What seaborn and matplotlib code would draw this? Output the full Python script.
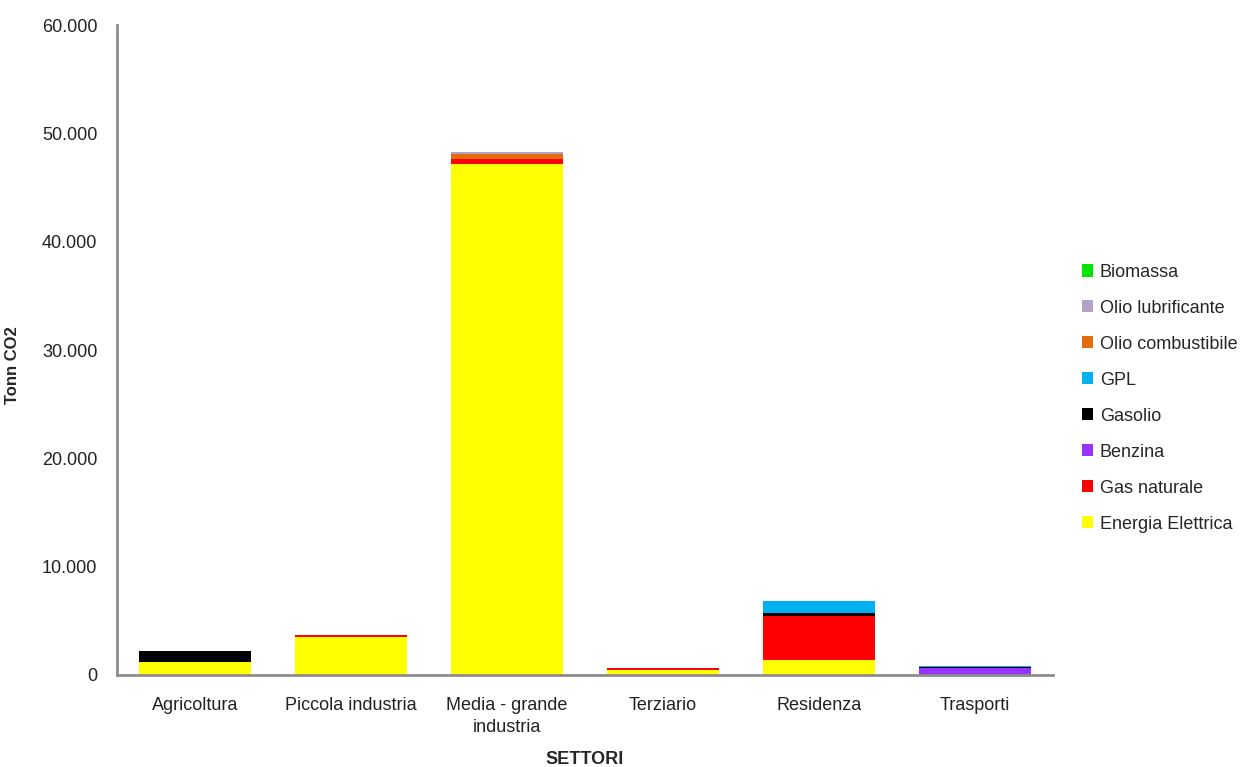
import matplotlib
import seaborn as sns
import numpy as np
import pandas as pd
import matplotlib.pyplot as plt
from matplotlib.patches import Patch
from matplotlib.ticker import FuncFormatter, FixedLocator

# settori e fonti (Tonn CO2)
settori = ["Agricoltura", "Piccola industria", "Media - grande\nindustria",
           "Terziario", "Residenza", "Trasporti"]
fonti = ["Biomassa", "Olio lubrificante", "Olio combustibile", "GPL",
         "Gasolio", "Benzina", "Gas naturale", "Energia Elettrica"]

energia_elettrica = [1200, 3500, 47150, 500, 1350, 0]
gas_naturale = [0, 230, 470, 130, 4120, 0]
benzina = [0, 0, 0, 0, 0, 650]
gasolio = [1000, 0, 0, 0, 220, 90]
gpl = [0, 0, 0, 0, 1100, 90]
olio_combustibile = [0, 0, 530, 0, 0, 0]
olio_lubrificante = [0, 0, 150, 0, 0, 0]
biomassa = [0, 0, 0, 0, 0, 0]

colori = ["#00E600", "#B3A2C7", "#E46C0A", "#00B0F0",
          "#000000", "#9933FF", "#FF0000", "#FFFF00"]

valori = {
    "Biomassa": biomassa,
    "Olio lubrificante": olio_lubrificante,
    "Olio combustibile": olio_combustibile,
    "GPL": gpl,
    "Gasolio": gasolio,
    "Benzina": benzina,
    "Gas naturale": gas_naturale,
    "Energia Elettrica": energia_elettrica,
}

rows = []
for f in fonti:
    for s, v in zip(settori, valori[f]):
        rows.append({"settore": s, "fonte": f, "tonn": v})
df = pd.DataFrame(rows)
df["settore"] = pd.Categorical(df["settore"], categories=settori, ordered=True)

sns.set_style("white")
plt.rcParams['font.family'] = ['Liberation Sans', 'DejaVu Sans']

fig = plt.figure(figsize=(12.43, 7.67), dpi=100)
ax = fig.add_axes([0.094, 0.12, 0.753, 0.847])

sns.histplot(data=df, x="settore", weights="tonn", hue="fonte",
             hue_order=fonti, palette=colori, multiple="stack",
             discrete=True, shrink=0.72, linewidth=0, alpha=1,
             legend=False, ax=ax)

ax.set_xlim(-0.5, 5.5)
ax.set_ylim(0, 60000)
ax.yaxis.set_major_locator(FixedLocator(np.arange(0, 60001, 10000)))
ax.yaxis.set_major_formatter(FuncFormatter(lambda v, p: f"{int(v):,}".replace(",", ".")))

ax.set_xticks(range(len(settori)))
ax.set_xticklabels(settori, fontsize=13, color="#222222", linespacing=1.35)
ax.set_xticks(np.arange(-0.5, 6, 1), minor=True)
ax.tick_params(axis="x", which="major", length=0, pad=16)
ax.tick_params(axis="x", which="minor", length=6, width=1.5, color="#8c8c8c", direction="out")
ax.tick_params(axis="y", which="major", length=8, width=1.5, color="#8c8c8c",
               direction="out", labelsize=13, labelcolor="#222222", pad=6)

for side in ["top", "right"]:
    ax.spines[side].set_visible(False)
for side in ["left", "bottom"]:
    ax.spines[side].set_color("#8c8c8c")
    ax.spines[side].set_linewidth(2)

ax.set_ylabel("Tonn CO2", fontsize=12, fontweight="bold")
ax.yaxis.set_label_coords(-0.104, 0.477)
ax.set_xlabel("SETTORI", fontsize=13, fontweight="bold")
ax.xaxis.set_label_coords(0.5, -0.117)

handles = [Patch(facecolor=c, edgecolor="none", label=f) for f, c in zip(fonti, colori)]
ax.legend(handles=handles, loc="center left", bbox_to_anchor=(1.023, 0.426),
          frameon=False, fontsize=13, handlelength=0.65, handleheight=0.65,
          handletextpad=0.35, labelspacing=1.05, borderaxespad=0)

fig.savefig("out.png", dpi=100)
